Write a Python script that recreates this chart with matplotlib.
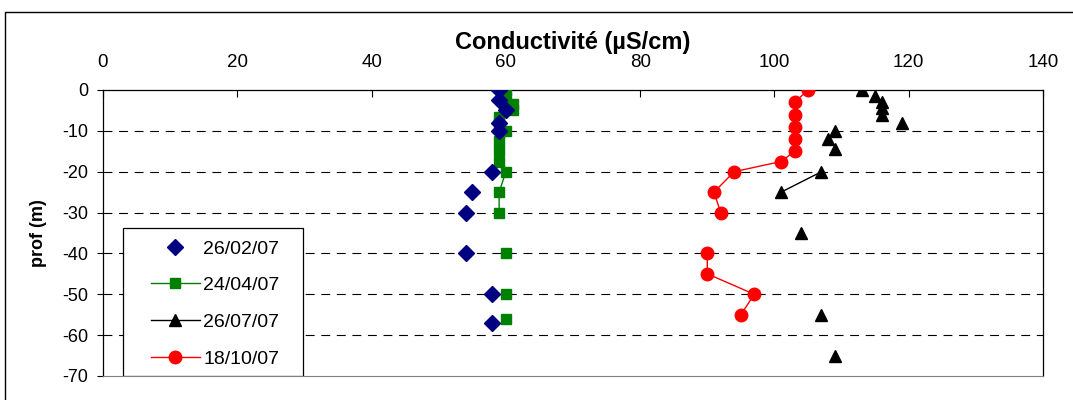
import matplotlib
matplotlib.use('Agg')
import matplotlib.pyplot as plt
from matplotlib.patches import Rectangle
import numpy as np

plt.rcParams['font.family'] = ['Liberation Sans', 'DejaVu Sans']
plt.rcParams['axes.unicode_minus'] = False

nan = np.nan

# 26/02/07 - points only
prof_fev = [0, -2.5, -5, -8, -10, -20, -25, -30, -40, -50, -57]
cond_fev = [59, 59, 60, 59, 59, 58, 55, 54, 54, 58, 58]

# 24/04/07 - ligne (trous = nan)
prof_avr = [0, -2, -3.5, -5, -6.5, -8, -10, -12.5, -15, -17.5, -20, -25, -30, nan, -40, nan, -50, nan, -56]
cond_avr = [60, 60, 61, 61, 59, 59, 60, 59, 59, 59, 60, 59, 59, nan, 60, nan, 60, nan, 60]

# 26/07/07
prof_jul = [0, nan, -1.5, nan, -3, nan, -4.5, nan, -6, nan, -8, nan, -10, nan, -12, nan, -14.5, nan,
            -20, -25, nan, -35, nan, -55, nan, -65]
cond_jul = [113, nan, 115, nan, 116, nan, 116, nan, 116, nan, 119, nan, 109, nan, 108, nan, 109, nan,
            107, 101, nan, 104, nan, 107, nan, 109]

# 18/10/07
prof_oct = [0, -3, -6, -9, -12, -15, -17.5, -20, -25, -30, nan, -40, -45, -50, -55]
cond_oct = [105, 103, 103, 103, 103, 103, 101, 94, 91, 92, nan, 90, 90, 97, 95]

fig = plt.figure(figsize=(10.73, 4.0), dpi=100)
ax = fig.add_axes([103 / 1073, 1 - 376 / 400, 940 / 1073, 286 / 400])

# cadre extérieur du graphique (style Excel)
fig.patches.append(Rectangle((5 / 1073, -0.1), 1.2, 1 - 12 / 400 + 0.1, transform=fig.transFigure,
                             fill=False, edgecolor='black', linewidth=1.0, zorder=0))

ax.plot(cond_fev, prof_fev, linestyle='none', marker='D', color='#000080', markersize=8, label='26/02/07', zorder=5)
ax.plot(cond_avr, prof_avr, '-', marker='s', color='#008000', markersize=6.5, linewidth=1, label='24/04/07', zorder=4)
ax.plot(cond_jul, prof_jul, '-', marker='^', color='black', markersize=8.5, linewidth=1, label='26/07/07', zorder=4)
ax.plot(cond_oct, prof_oct, '-', marker='o', color='#FF0000', markersize=9, linewidth=1, label='18/10/07', zorder=4)

ax.set_xlim(0, 140)
ax.set_ylim(-70, 0)
ax.set_xticks(range(0, 141, 20))
ax.set_yticks(range(-70, 1, 10))

ax.xaxis.tick_top()
ax.xaxis.set_label_position('top')
ax.tick_params(axis='x', direction='in', length=5, pad=14, labelsize=13.5, width=0.8)
ax.tick_params(axis='y', direction='out', length=4.5, pad=6, labelsize=13, width=0.8)

for y in range(-60, 0, 10):
    ax.axhline(y, color='black', linewidth=0.8, dashes=(8, 6), zorder=1)

ax.spines['bottom'].set_color('#808080')
for s in ['top', 'left', 'right']:
    ax.spines[s].set_color('black')
    ax.spines[s].set_linewidth(0.9)

ax.set_xlabel('Conductivité (µS/cm)', fontsize=17, fontweight='bold', labelpad=3)
ax.set_ylabel('prof (m)', fontsize=13, fontweight='bold', labelpad=11)

# légende : cadre dessiné à part pour garder les marges d'Excel
ax.add_patch(Rectangle((20 / 940, 0), 180 / 940, 148 / 286, transform=ax.transAxes,
                       facecolor='white', edgecolor='black', linewidth=0.9, zorder=6))
leg = ax.legend(loc='upper left', bbox_to_anchor=(48 / 940, 136 / 286), fontsize=14, frameon=False,
                borderpad=0, labelspacing=0.98, handlelength=2.5, handletextpad=0.2, borderaxespad=0)
leg.set_zorder(7)

fig.savefig('out.png', dpi=100)
